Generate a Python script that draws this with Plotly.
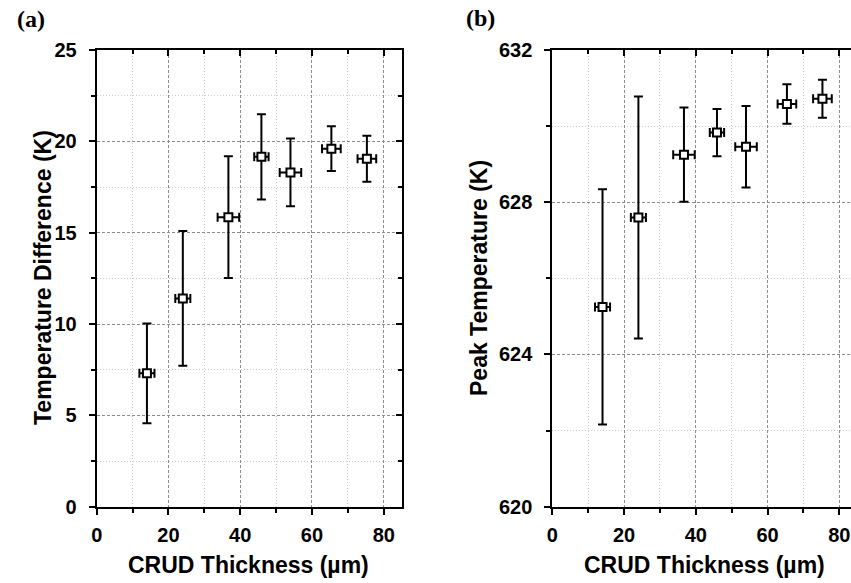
import plotly.graph_objects as go

# ---- data ----
thickness = [14.0, 24.0, 36.7, 45.9, 54.0, 65.4, 75.3]
thickness_err = [2.1, 2.1, 3.0, 2.0, 3.0, 2.6, 2.6]
delta_T = [7.3, 11.4, 15.85, 19.15, 18.3, 19.6, 19.05]
delta_T_err = [2.73, 3.69, 3.33, 2.33, 1.85, 1.23, 1.26]
peak_T = [625.25, 627.6, 629.25, 629.83, 629.46, 630.58, 630.72]
peak_T_err = [3.09, 3.18, 1.24, 0.62, 1.07, 0.52, 0.5]

x_title = "CRUD Thickness (\u00b5m)"
y_title_a = "Temperature Difference (K)"
y_title_b = "Peak Temperature (K)"

W, H = 851, 583
FONT = "Liberation Sans, Arial, sans-serif"

def px_x(p):
    return p / W

def px_y(p):
    return 1 - p / H

dom_y = [px_y(506.7), px_y(50)]
dom_xa = [px_x(96.7), px_x(401.7)]
dom_xb = [px_x(552.3), 1.0]

fig = go.Figure()

def add_series(x, y, ex, ey, xa, ya):
    fig.add_trace(go.Scatter(
        x=x, y=y, mode="markers", xaxis=xa, yaxis=ya,
        marker=dict(symbol="square", size=8, color="white",
                    line=dict(color="black", width=2)),
        error_y=dict(type="data", array=ey, visible=True, color="black",
                     thickness=2, width=4.5),
        error_x=dict(type="data", array=ex, visible=True, color="black",
                     thickness=2, width=4.5),
        showlegend=False, cliponaxis=False,
    ))

add_series(thickness, delta_T, thickness_err, delta_T_err, "x", "y")
add_series(thickness, peak_T, thickness_err, peak_T_err, "x2", "y2")

# dummy traces so overlay axes (inward ticks on top/right borders) render
fig.add_trace(go.Scatter(x=[None], y=[None], xaxis="x3", yaxis="y", showlegend=False, hoverinfo="skip"))
fig.add_trace(go.Scatter(x=[None], y=[None], xaxis="x", yaxis="y3", showlegend=False, hoverinfo="skip"))
fig.add_trace(go.Scatter(x=[None], y=[None], xaxis="x4", yaxis="y2", showlegend=False, hoverinfo="skip"))

tickfont = dict(family=FONT, size=20, color="black", weight="bold")
grid_major = dict(showgrid=True, gridcolor="#8c8c8c", griddash="3px,2px", gridwidth=1)

def minor(dt):
    return dict(dtick=dt, ticks="outside", ticklen=4, tickwidth=2, tickcolor="black",
                showgrid=True, gridcolor="#cccccc", griddash="1px,2px", gridwidth=1)

def minor_in(dt):
    return dict(dtick=dt, ticks="inside", ticklen=4, tickwidth=2, tickcolor="black",
                showgrid=False)

x_b_max = (851 - 552.3) / 3.5875

base_x = dict(range=[0, 85], dtick=20, tick0=0, showline=True, linecolor="black", linewidth=2,
              ticks="outside", ticklen=6, tickwidth=2, tickcolor="black",
              tickfont=tickfont, zeroline=False, ticklabelstandoff=3, automargin=False,
              ticklabeloverflow="allow", **grid_major)

fig.update_layout(
    width=W, height=H,
    margin=dict(l=0, r=0, t=0, b=0, autoexpand=False),
    plot_bgcolor="white", paper_bgcolor="white",
    xaxis=dict(domain=dom_xa, anchor="y", minor=minor(10), **base_x),
    yaxis=dict(domain=dom_y, anchor="x", range=[0, 25], dtick=5, tick0=0,
               showline=True, linecolor="black", linewidth=2,
               ticks="outside", ticklen=6, tickwidth=2, tickcolor="black",
               tickfont=tickfont, zeroline=False, ticklabelstandoff=8, automargin=False,
               minor=minor(2.5), **grid_major),
    xaxis2=dict(domain=dom_xb, anchor="y2",
                minor=minor(10),
                **{**base_x, "range": [0, x_b_max]}),
    yaxis2=dict(domain=dom_y, anchor="x2", range=[620, 632], dtick=4, tick0=620,
                showline=True, linecolor="black", linewidth=2,
                ticks="outside", ticklen=6, tickwidth=2, tickcolor="black",
                tickfont=tickfont, zeroline=False, ticklabelstandoff=8, automargin=False,
                minor=minor(2), **grid_major),
    # top border of (a) with inward ticks
    xaxis3=dict(overlaying="x", anchor="y", side="top", matches="x",
                range=[0, 85], dtick=20, tick0=0, showline=True, linecolor="black", linewidth=2,
                ticks="inside", ticklen=6, tickwidth=2, tickcolor="black", automargin=False,
                showticklabels=False, showgrid=False, zeroline=False, minor=minor_in(10)),
    # right border of (a) with inward ticks
    yaxis3=dict(overlaying="y", anchor="x", side="right", matches="y",
                range=[0, 25], dtick=5, tick0=0, showline=True, linecolor="black", linewidth=2,
                ticks="inside", ticklen=6, tickwidth=2, tickcolor="black", automargin=False,
                showticklabels=False, showgrid=False, zeroline=False, minor=minor_in(2.5)),
    # top border of (b)
    xaxis4=dict(overlaying="x2", anchor="y2", side="top", matches="x2",
                dtick=20, tick0=0, showline=True, linecolor="black", linewidth=2,
                ticks="inside", ticklen=6, tickwidth=2, tickcolor="black", automargin=False,
                showticklabels=False, showgrid=False, zeroline=False, minor=minor_in(10)),
)

title_font = dict(family=FONT, size=23, color="black", weight="bold")
label_font = dict(family="Liberation Serif, Times New Roman, serif", size=24, color="black", weight="bold")

annotations = [
    dict(text=x_title, x=px_x(249), y=px_y(565), font=title_font),
    dict(text=x_title, x=px_x(704.5), y=px_y(565), font=title_font),
    dict(text=y_title_a, x=px_x(43), y=px_y(278), textangle=-90, font=title_font),
    dict(text=y_title_b, x=px_x(479), y=px_y(278), textangle=-90, font=title_font),
    dict(text="(a)", x=px_x(31), y=px_y(19), font=label_font),
    dict(text="(b)", x=px_x(480), y=px_y(18), font=label_font),
]
for a in annotations:
    fig.add_annotation(xref="paper", yref="paper", showarrow=False,
                       xanchor="center", yanchor="middle", **a)

# remove the default 8px page margin so the figure fills the 851x583 window exactly
fig.write_html("out.html",
               config={"displayModeBar": False, "staticPlot": True},
               post_script="document.body.style.margin='0px';document.body.style.overflow='hidden';")
